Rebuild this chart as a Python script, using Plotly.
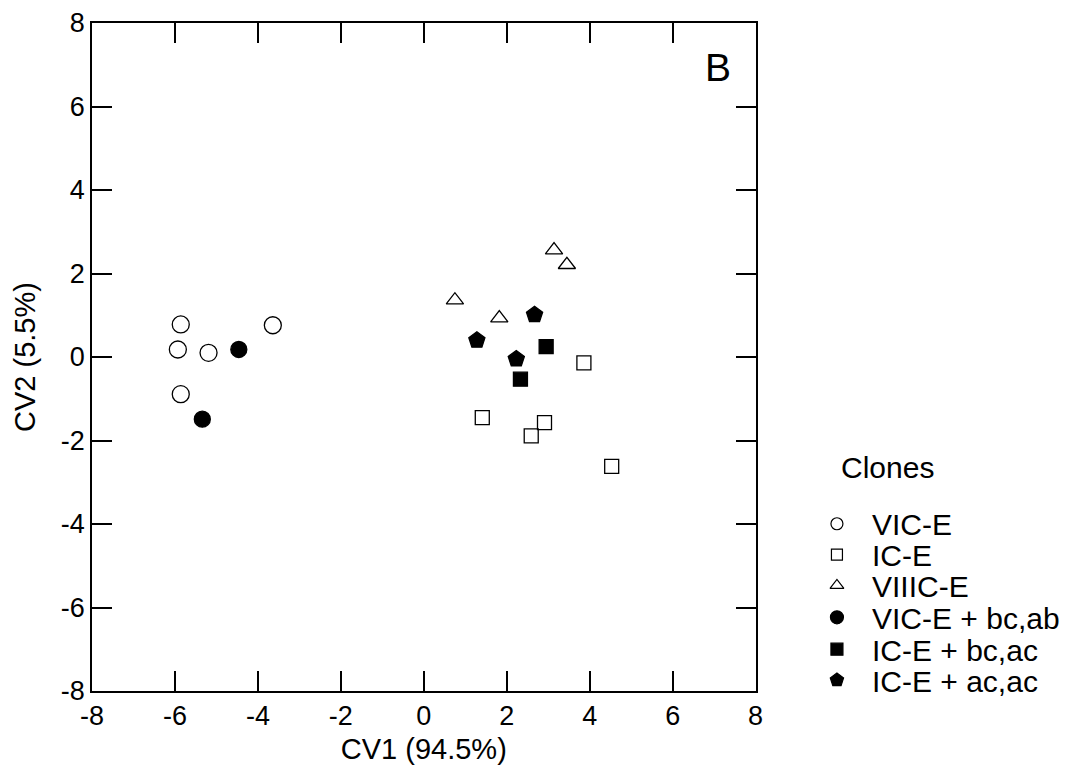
import plotly.graph_objects as go

# Data
vic_e_x = [-5.86, -3.64, -5.93, -5.19, -5.86]
vic_e_y = [0.78, 0.76, 0.18, 0.10, -0.89]
ic_e_x = [3.86, 1.41, 2.91, 2.59, 4.53]
ic_e_y = [-0.14, -1.45, -1.57, -1.89, -2.62]
viiic_e_x = [3.14, 3.45, 0.75, 1.82]
viiic_e_y = [2.56, 2.21, 1.36, 0.93]
vic_bcab_x = [-4.46, -5.34]
vic_bcab_y = [0.18, -1.49]
ic_bcac_x = [2.95, 2.33]
ic_bcac_y = [0.25, -0.53]
ic_acac_x = [2.67, 1.28, 2.23]
ic_acac_y = [1.01, 0.40, -0.05]

series_names = ["VIC-E", "IC-E", "VIIIC-E", "VIC-E + bc,ab", "IC-E + bc,ac", "IC-E + ac,ac"]
tick_vals = [-8, -6, -4, -2, 0, 2, 4, 6, 8]
tick_text = ["-8", "-6", "-4", "-2", "0", "2", "4", "6", "8"]
legend_title = "Clones"
panel_label = "B"

# styles (symbol, size in plot, size in legend)
styles = [
    ("circle-open", 17, 12),
    ("square-open", 14, 11),
    ("triangle-up-open", 15, 12),
    ("circle", 16, 13),
    ("square", 14, 12),
    ("pentagon", 17, 14),
]
data = [(vic_e_x, vic_e_y), (ic_e_x, ic_e_y), (viiic_e_x, viiic_e_y),
        (vic_bcab_x, vic_bcab_y), (ic_bcac_x, ic_bcac_y), (ic_acac_x, ic_acac_y)]

FONT = "Liberation Sans, Arial, sans-serif"
W, H = 1076, 775
OFF = 8  # page body margin
# plot frame in page pixels
PL, PR, PT, PB = 92, 761, 20, 691
ML, MT = PL - OFF, PT - OFF
MB = H - (PB - OFF)
plot_w = W - ML

# legend layout (page pixels)
leg_x0, leg_x1 = 800, W + OFF
leg_marker_x = 843
leg_text_x = 876
leg_rows = [523, 554, 585, 617, 649, 680]

fig = go.Figure()
for name, (xs, ys), (sym, size, lsize), ry in zip(series_names, data, styles, leg_rows):
    fig.add_trace(go.Scatter(
        x=xs, y=ys, mode="markers", name=name, showlegend=False,
        marker=dict(symbol=sym, size=size, color="black",
                    line=dict(color="black", width=1.3)),
    ))
    fig.add_trace(go.Scatter(
        x=[leg_marker_x], y=[ry], xaxis="x2", yaxis="y2", mode="markers",
        name=name, showlegend=False, hoverinfo="skip",
        marker=dict(symbol=sym, size=lsize, color="black",
                    line=dict(color="black", width=1.2)),
    ))
    fig.add_annotation(x=leg_text_x, y=ry + 1, xref="x2", yref="y2", text=name,
                       showarrow=False, xanchor="left", yanchor="middle",
                       font=dict(size=30, color="black", family=FONT))

fig.add_annotation(x=845, y=466, xref="x2", yref="y2", text=legend_title,
                   showarrow=False, xanchor="left", yanchor="middle",
                   font=dict(size=30, color="black", family=FONT))

axis_common = dict(
    range=[-8, 8], tickvals=tick_vals, ticktext=tick_text, ticks="inside",
    ticklen=20, tickwidth=1.6, tickcolor="black", showline=True,
    linecolor="black", linewidth=1.8, mirror="ticks", showgrid=False,
    zeroline=False, ticklabeloverflow="allow",
    tickfont=dict(size=27, color="black", family=FONT),
)
fig.update_layout(
    xaxis=dict(**axis_common, domain=[0, (PR - PL) / plot_w],
               title=dict(text="CV1 (94.5%)", standoff=8,
                          font=dict(size=29, color="black", family=FONT))),
    yaxis=dict(**axis_common,
               title=dict(text="CV2 (5.5%)", standoff=17,
                          font=dict(size=29, color="black", family=FONT))),
    xaxis2=dict(domain=[(leg_x0 - PL) / plot_w, 1], range=[leg_x0, leg_x1],
                visible=False, anchor="y2", fixedrange=True),
    yaxis2=dict(domain=[0, 1], range=[PB, PT], visible=False, anchor="x2",
                fixedrange=True),
)

fig.add_annotation(x=(723 - PL) / (PR - PL), y=(PB - 65) / (PB - PT),
                   xref="x domain", yref="y domain", text=panel_label,
                   xanchor="center", yanchor="middle",
                   showarrow=False, font=dict(size=39, color="black", family=FONT))

fig.update_layout(
    width=W, height=H,
    margin=dict(l=ML, r=0, t=MT, b=MB),
    paper_bgcolor="white", plot_bgcolor="white",
    font=dict(family=FONT, color="black"),
    showlegend=False,
)
fig.write_html("out.html")
